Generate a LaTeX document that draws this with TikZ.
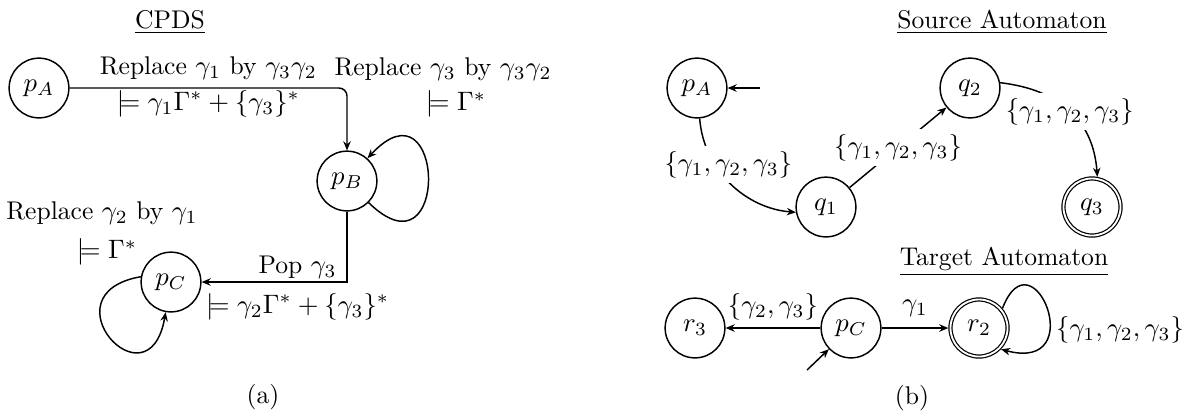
\documentclass[tikz,border=0pt]{standalone}
\usetikzlibrary{arrows.meta}
\begin{document}
\begin{tikzpicture}[x=0.375pt,y=-0.375pt,
  every node/.style={font=\fontsize{9.6pt}{11.5pt}\selectfont},
  st/.style={circle,draw,line width=0.55pt,minimum size=22.4pt,inner sep=0pt},
  acc/.style={circle,draw,line width=0.45pt,double,double distance=0.7pt,minimum size=21.4pt,inner sep=0pt,outer sep=0.8pt},
  ar/.style={-{Stealth[length=3.4pt,width=2.8pt]},line width=0.55pt},
  flab/.style={fill=white,inner sep=2pt},
  txt/.style={inner sep=0pt},
]
\useasboundingbox (0,0) rectangle (1187,410);

% ---------- (a) CPDS ----------
\node[txt] (tA) at (170,22) {\underline{CPDS}};
\node[st] (pA) at (39,88) {$p_A$};
\node[st] (pB) at (347,181) {$p_B$};
\node[st] (pC) at (171,282) {$p_C$};

\draw[ar,rounded corners=3pt] (pA) -|
  node[pos=0.25,above,inner sep=3pt]{Replace $\gamma_1$ by $\gamma_3\gamma_2$}
  node[pos=0.25,below,inner sep=0.7pt]{$\models\gamma_1\Gamma^*+\{\gamma_3\}^*$} (pB);
\draw[ar] (pB) |-
  node[pos=0.67,above,inner sep=1pt]{Pop $\gamma_3$}
  node[pos=0.67,below,inner sep=4pt]{$\models\gamma_2\Gamma^*+\{\gamma_3\}^*$} (pC);

\draw[ar] (pB.-45) .. controls +(82,80) and +(78,-84) .. (pB.48);
\node[txt] (lB1) at (443,69) {Replace $\gamma_3$ by $\gamma_3\gamma_2$};
\node[txt] (lB2) at (456,104) {$\models\Gamma^*$};

\draw[ar] (pC.170) .. controls +(-98,17) and +(-17,98) .. (pC.-100);
\node[txt] (lC1) at (102,213) {Replace $\gamma_2$ by $\gamma_1$};
\node[txt] (lC2) at (107,252) {$\models\Gamma^*$};

\node[txt] (capA) at (263,397) {(a)};

% ---------- (b) Source automaton ----------
\node[txt] (tS) at (1002,22) {\underline{Source Automaton}};
\node[st] (sA) at (697,88) {$p_A$};
\node[st] (q1) at (826,207) {$q_1$};
\node[st] (q2) at (970,88) {$q_2$};
\node[acc] (q3) at (1092,207) {$q_3$};
\coordinate (iA) at (760,88);
\draw[ar] (iA) -- (sA);
\draw[ar] (sA.-85) .. controls +(4,52) and +(-50,-4) ..
  node[flab,pos=0.33,xshift=5pt]{$\{\gamma_1,\gamma_2,\gamma_3\}$} (q1.190);
\draw[ar] (q1) -- node[flab]{$\{\gamma_1,\gamma_2,\gamma_3\}$} (q2);
\draw[ar] (q2.10) .. controls +(60,7) and +(-4,-56) ..
  node[flab,pos=0.5]{$\{\gamma_1,\gamma_2,\gamma_3\}$} (q3.80);

% ---------- (b) Target automaton ----------
\node[txt] (tT) at (1004,262) {\underline{Target Automaton}};
\node[st] (r3) at (695,328) {$r_3$};
\node[st] (pC2) at (851,328) {$p_C$};
\node[acc] (r2) at (979,328) {$r_2$};
\coordinate (iC) at (807,370);
\draw[ar] (iC) -- (pC2);
\draw[ar] (pC2) -- node[above,inner sep=2.5pt]{$\{\gamma_2,\gamma_3\}$} (r3);
\draw[ar] (pC2) -- node[above,inner sep=4pt]{$\gamma_1$} (r2);
\draw[ar] (r2.40) .. controls +(30,-78) and +(90,24) .. (r2.-44);
\node[txt] (lr2) at (1120,330) {$\{\gamma_1,\gamma_2,\gamma_3\}$};

\node[txt] (capB) at (912,398) {(b)};
\end{tikzpicture}
\end{document}
